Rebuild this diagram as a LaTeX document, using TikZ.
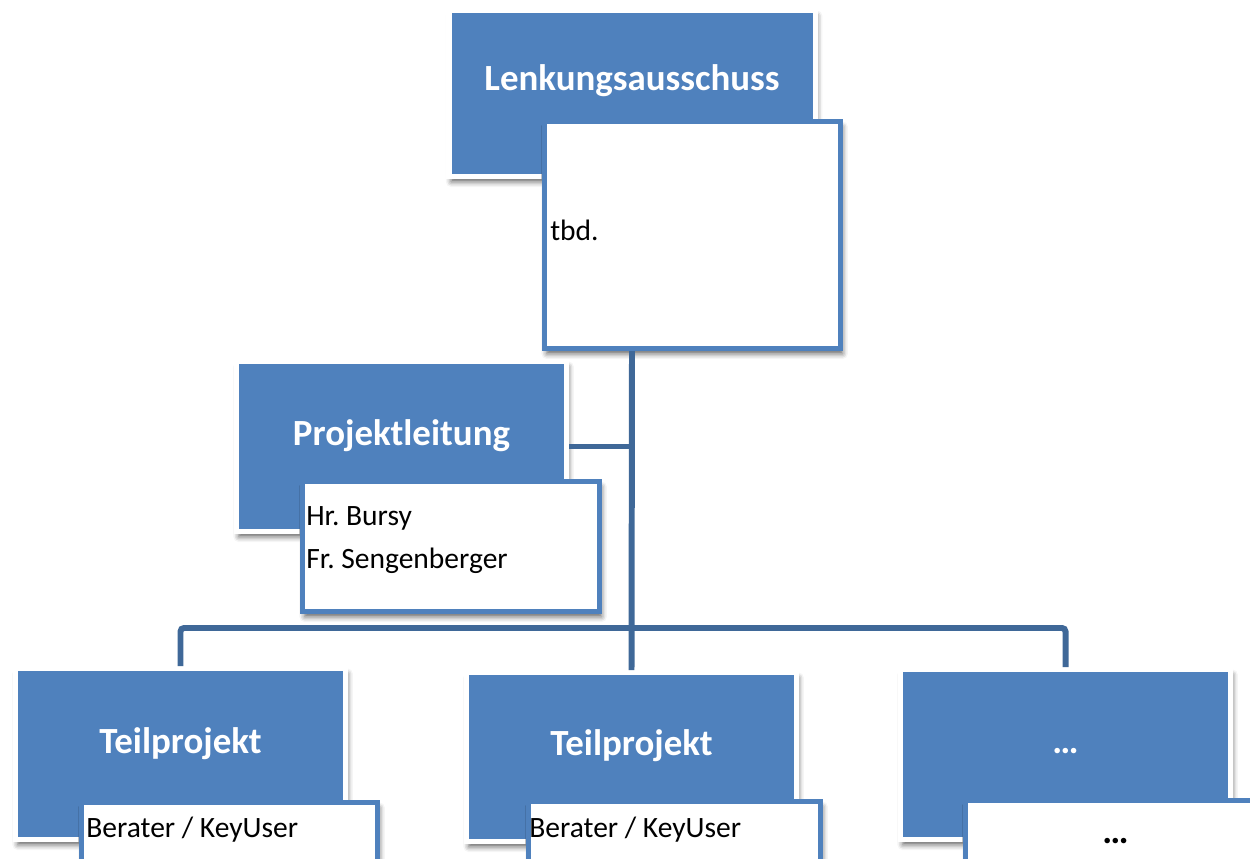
\documentclass[tikz,border=0pt]{standalone}
\usepackage{fontspec}
\setmainfont{Carlito}
\usetikzlibrary{shadows.blur}

\definecolor{boxblue}{HTML}{4F81BD}
\definecolor{linkblue}{HTML}{3F6898}

\tikzset{
  headbox/.style 2 args={rectangle, fill=boxblue, draw=white, line width=2.85pt,
    minimum width=#1cm, minimum height=#2cm, inner sep=0pt,
    blur shadow={shadow xshift=1.2pt, shadow yshift=-3pt, shadow blur radius=3pt, shadow opacity=60}},
  namebox/.style 2 args={rectangle, fill=white, draw=boxblue, line width=2.85pt,
    minimum width=#1cm, minimum height=#2cm, inner sep=0pt,
    blur shadow={shadow xshift=1.2pt, shadow yshift=-3pt, shadow blur radius=3pt, shadow opacity=60}},
  title/.style={anchor=base, inner sep=0pt, text=white, font=\fontsize{21}{25}\selectfont\bfseries},
  entry/.style={anchor=base west, inner sep=0pt, font=\fontsize{16.8}{20}\selectfont},
  link/.style={draw=linkblue, line width=3.4pt}
}

\begin{document}
\frenchspacing
\begin{tikzpicture}[x=0.2mm, y=-0.2mm]
    \useasboundingbox (0,0) rectangle (1250,858);
    \clip (0,0) rectangle (1250,858);

    % steering committee
    \node[headbox={7.32}{3.32}] (lenk) at (632,93.5) {};
    \node[title] (lenktitle) at (632,90.7) {Lenkungsausschuss};
    \node[namebox={5.92}{4.54}] (lenkname) at (692.5,235) {};
    \node[entry] (tbd) at (550,240) {tbd.};

    % project management
    \node[headbox={6.6}{3.4}] (pl) at (401.5,446.5) {};
    \node[title] (pltitle) at (401.5,445.7) {Projektleitung};
    \node[namebox={5.94}{2.6}] (plname) at (451,546.5) {};
    \node[entry] (bursy) at (306,525) {Hr. Bursy};
    \node[entry] (sengen) at (306,568) {Fr. Sengenberger};

    % sub projects
    \node[headbox={6.6}{3.42}] (tp1) at (180.5,754) {};
    \node[title] (tp1title) at (180.5,753) {Teilprojekt};
    \node[namebox={5.92}{1.6}] (tp1name) at (229.5,842.5) {};
    \node[entry] (tp1user) at (86,837.7) {Berater / KeyUser};

    \node[headbox={6.6}{3.38}] (tp2) at (631.5,757) {};
    \node[title] (tp2title) at (631.5,755) {Teilprojekt};
    \node[namebox={5.84}{1.6}] (tp2name) at (674.5,841.5) {};
    \node[entry] (tp2user) at (529,837.7) {Berater / KeyUser};

    \node[headbox={6.6}{3.4}] (tp3) at (1065.5,754.5) {};
    \node[title] (tp3title) at (1065.5,753) {…};
    \node[namebox={6.0}{1.6}] (tp3name) at (1115.5,840.5) {};
    \node[title, text=black] (tp3dots) at (1115.5,843) {…};

    % connectors
    \draw[link] (lenk |- lenkname.south) -- (tp2.north);
    \draw[link] (pl.east) -- (pl.east -| lenk);
    \draw[link, rounded corners=2pt] (tp1.north) -- ++(0,-38) -| (tp3.north);
\end{tikzpicture}
\end{document}
